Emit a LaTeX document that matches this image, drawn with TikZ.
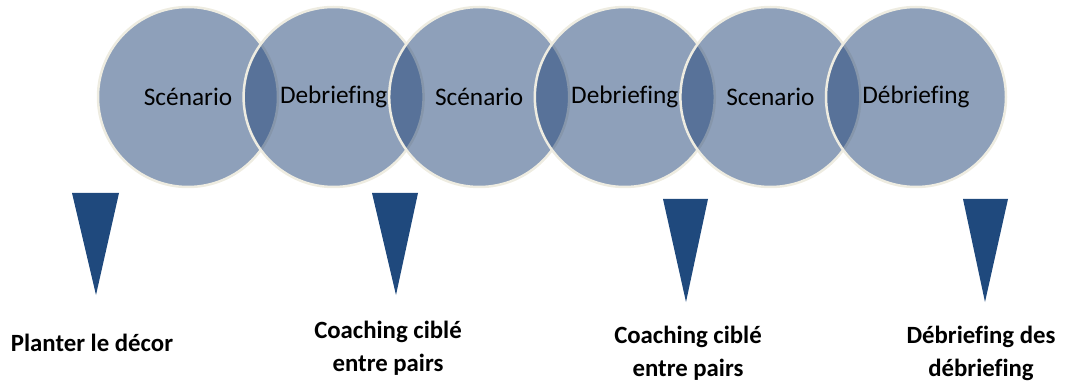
\documentclass[tikz,border=0pt]{standalone}
\usepackage{fontspec}
\setmainfont{Carlito}[Ligatures={NoCommon}]
\usepackage{tikz}

\definecolor{phaseblue}{RGB}{39,73,123}
\definecolor{phaserim}{RGB}{238,236,225}
\definecolor{markblue}{RGB}{31,73,125}

\tikzset{
  phase/.style={draw=phaserim, line width=2.5pt, circle, minimum size=180pt, inner sep=0pt,
    fill=phaseblue, fill opacity=0.52, text opacity=1, font=\fontsize{25.3}{30}\selectfont},
  marker/.style={fill=markblue, draw=none},
  step label/.style={align=center, font=\bfseries\fontsize{24.8}{33}\selectfont}
}

\begin{document}
\begin{tikzpicture}[x=1pt,y=-1pt]
\useasboundingbox (0,0) rectangle (1090,382);
\begin{scope}
\node[phase] (1) at (188,97) {Scénario};
\node[phase] (2) at (333.6,97) {Debriefing};
\node[phase] (3) at (479.2,97) {Scénario};
\node[phase] (4) at (624.8,97) {Debriefing};
\node[phase] (5) at (770.4,97) {Scenario};
\node[phase] (6) at (916,97) {Débriefing};
\path[marker] (72,193) -- (119,193) -- (96,295) -- cycle;
\path[marker] (372,193) -- (418,193) -- (396,295) -- cycle;
\path[marker] (663,199) -- (708,199) -- (686,302) -- cycle;
\path[marker] (963,199) -- (1008,199) -- (985,302) -- cycle;
\node[step label] (a) at (92,343) {Planter le décor};
\node[step label] (b) at (388,348.5) {Coaching ciblé\\entre pairs};
\node[step label] (c) at (688,353.5) {Coaching ciblé\\entre pairs};
\node[step label] (d) at (981,353.5) {Débriefing des\\débriefing};
\end{scope}
\end{tikzpicture}
\end{document}
